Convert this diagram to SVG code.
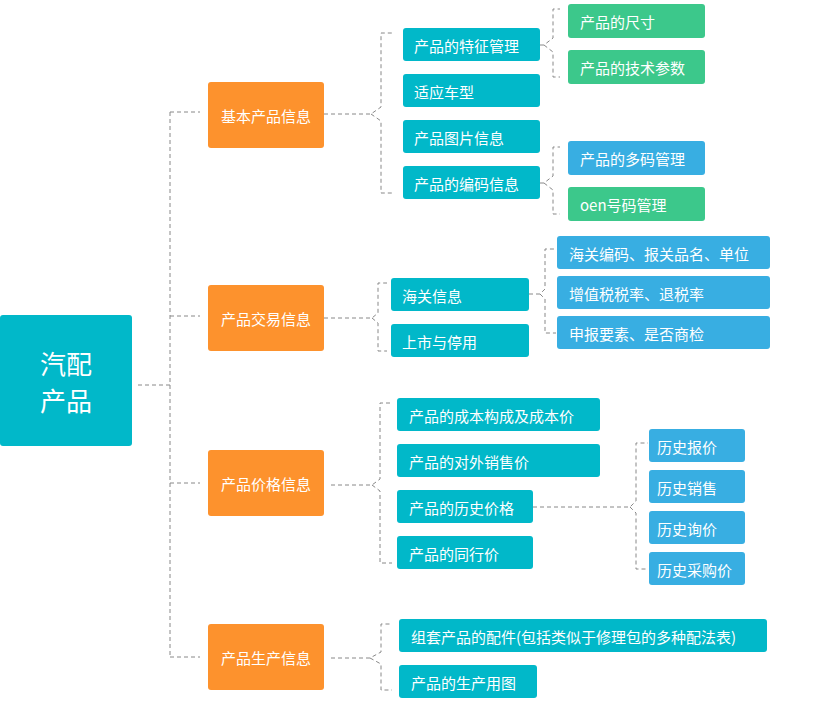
<svg xmlns="http://www.w3.org/2000/svg" width="840" height="718" viewBox="0 0 840 718">
<style>
.c{fill:none;stroke:#888;stroke-width:1;stroke-dasharray:4,3}
.t{fill:#fff;font-family:"Noto Sans CJK SC","Noto Sans",sans-serif;font-size:15px;dominant-baseline:central}
.o{fill:#fd922d}.k{fill:#01b8c9}.g{fill:#3cc88b}.b{fill:#38aee2}
</style>
<rect width="840" height="718" fill="#fff"/>
<g id="connectors">
<path class="c" d="M138 385H170M170 112V655M170 112H200M170 316H200M170 483H200M170 657H200"/>
<path class="c" d="M324 114H371L381 107V33H393M371 114L381 121V193H393"/>
<path class="c" d="M540 45H544L553 38V9H560M544 45L553 52V77H560"/>
<path class="c" d="M540 183H544L553 176V147H560M544 183L553 190V214H560"/>
<path class="c" d="M324 318H372L378 313V283H387M372 318L378 323V351H387"/>
<path class="c" d="M529 294H540L545 289V249H556M540 294L545 299V333H556"/>
<path class="c" d="M331 485H372L380 479V403H392M372 485L380 491V563H392"/>
<path class="c" d="M533 507H630L636 501V443H648M630 507L636 513V569H648"/>
<path class="c" d="M331 658H370L381 652V624H392M370 658L381 664V690H392"/>
</g>
<g id="root"><rect class="k" x="0" y="315" width="132" height="131" rx="3"/><text class="t" x="66" y="362" text-anchor="middle" style="font-size:26px">汽配</text><text class="t" x="66" y="399" text-anchor="middle" style="font-size:26px">产品</text></g>
<g id="n1"><rect class="o" x="208" y="82" width="116" height="66" rx="3"/><text class="t" x="266" y="115" text-anchor="middle">基本产品信息</text></g>
<g id="n2"><rect class="o" x="208" y="285" width="116" height="66" rx="3"/><text class="t" x="266" y="318" text-anchor="middle">产品交易信息</text></g>
<g id="n3"><rect class="o" x="208" y="450" width="116" height="66" rx="3"/><text class="t" x="266" y="483" text-anchor="middle">产品价格信息</text></g>
<g id="n4"><rect class="o" x="208" y="624" width="116" height="66" rx="3"/><text class="t" x="266" y="657" text-anchor="middle">产品生产信息</text></g>
<g id="n1a"><rect class="k" x="403" y="28" width="137" height="33" rx="3"/><text class="t" x="414" y="45">产品的特征管理</text></g>
<g id="n1b"><rect class="k" x="403" y="74" width="137" height="33" rx="3"/><text class="t" x="414" y="91">适应车型</text></g>
<g id="n1c"><rect class="k" x="403" y="120" width="137" height="33" rx="3"/><text class="t" x="414" y="137">产品图片信息</text></g>
<g id="n1d"><rect class="k" x="403" y="166" width="137" height="33" rx="3"/><text class="t" x="414" y="183">产品的编码信息</text></g>
<g id="n1a1"><rect class="g" x="568" y="4" width="137" height="34" rx="3"/><text class="t" x="580" y="21">产品的尺寸</text></g>
<g id="n1a2"><rect class="g" x="568" y="50" width="137" height="34" rx="3"/><text class="t" x="580" y="67">产品的技术参数</text></g>
<g id="n1d1"><rect class="b" x="568" y="141" width="137" height="34" rx="3"/><text class="t" x="580" y="158">产品的多码管理</text></g>
<g id="n1d2"><rect class="g" x="568" y="187" width="137" height="34" rx="3"/><text class="t" x="580" y="204">oen号码管理</text></g>
<g id="n2a"><rect class="k" x="391" y="278" width="138" height="33" rx="3"/><text class="t" x="402" y="295">海关信息</text></g>
<g id="n2b"><rect class="k" x="391" y="324" width="138" height="33" rx="3"/><text class="t" x="402" y="341">上市与停用</text></g>
<g id="n2a1"><rect class="b" x="557" y="236" width="213" height="33" rx="3"/><text class="t" x="569" y="253">海关编码、报关品名、单位</text></g>
<g id="n2a2"><rect class="b" x="557" y="276" width="213" height="33" rx="3"/><text class="t" x="569" y="293">增值税税率、退税率</text></g>
<g id="n2a3"><rect class="b" x="557" y="316" width="213" height="33" rx="3"/><text class="t" x="569" y="333">申报要素、是否商检</text></g>
<g id="n3a"><rect class="k" x="397" y="398" width="203" height="33" rx="3"/><text class="t" x="409" y="415">产品的成本构成及成本价</text></g>
<g id="n3b"><rect class="k" x="397" y="444" width="203" height="33" rx="3"/><text class="t" x="409" y="461">产品的对外销售价</text></g>
<g id="n3c"><rect class="k" x="397" y="490" width="136" height="33" rx="3"/><text class="t" x="409" y="507">产品的历史价格</text></g>
<g id="n3d"><rect class="k" x="397" y="536" width="136" height="33" rx="3"/><text class="t" x="409" y="553">产品的同行价</text></g>
<g id="n3c1"><rect class="b" x="649" y="429" width="96" height="33" rx="3"/><text class="t" x="657" y="446">历史报价</text></g>
<g id="n3c2"><rect class="b" x="649" y="470" width="96" height="33" rx="3"/><text class="t" x="657" y="487">历史销售</text></g>
<g id="n3c3"><rect class="b" x="649" y="511" width="96" height="33" rx="3"/><text class="t" x="657" y="528">历史询价</text></g>
<g id="n3c4"><rect class="b" x="649" y="552" width="96" height="33" rx="3"/><text class="t" x="657" y="569">历史采购价</text></g>
<g id="n4a"><rect class="k" x="399" y="619" width="368" height="33" rx="3"/><text class="t" x="411" y="636">组套产品的配件(包括类似于修理包的多种配法表)</text></g>
<g id="n4b"><rect class="k" x="399" y="665" width="138" height="33" rx="3"/><text class="t" x="411" y="682">产品的生产用图</text></g>
</svg>
